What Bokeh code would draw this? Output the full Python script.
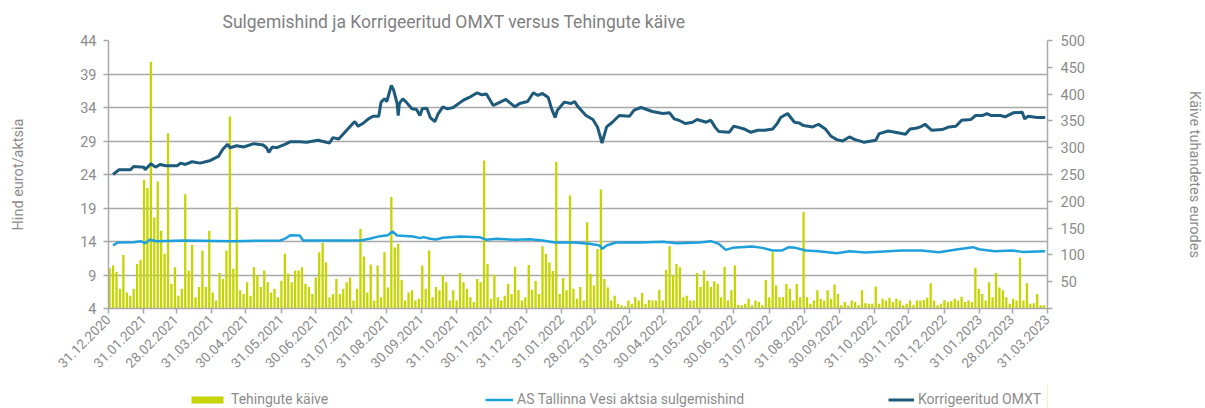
import math
from datetime import date
from bokeh.plotting import figure
from bokeh.layouts import column
from bokeh.models import Range1d, LinearAxis, FixedTicker, Legend, LegendItem
from bokeh.embed import file_html
from bokeh.resources import INLINE

# ---------------- data ----------------
base = date(2020, 12, 31)
month_labels = ["31.12.2020", "31.01.2021", "28.02.2021", "31.03.2021", "30.04.2021", "31.05.2021",
                "30.06.2021", "31.07.2021", "31.08.2021", "30.09.2021", "31.10.2021", "30.11.2021",
                "31.12.2021", "31.01.2022", "28.02.2022", "31.03.2022", "30.04.2022", "31.05.2022",
                "30.06.2022", "31.07.2022", "31.08.2022", "30.09.2022", "31.10.2022", "30.11.2022",
                "31.12.2022", "31.01.2023", "28.02.2023", "31.03.2023"]

# Korrigeeritud OMXT (days since 31.12.2020, value on price scale)
omxt_days = [4, 9, 19, 22, 31, 32, 37, 41, 45, 50, 60, 63, 67, 73, 80, 89, 96, 100, 104, 106,
             112, 118, 127, 135, 138, 140, 143, 147, 154, 159, 167, 173, 183, 193, 196, 201, 208, 215, 218, 222,
             227, 231, 236, 238, 241, 243, 247, 249, 252, 253, 254, 257, 260, 265, 269, 272, 274, 278, 281, 285,
             288, 292, 296, 301, 310, 315, 322, 326, 330, 336, 342, 347, 355, 359, 366, 371, 375, 379, 384, 387,
             390, 392, 398, 404, 407, 410, 417, 423, 427, 431, 435, 440, 446, 455, 459, 465, 475, 484, 490, 494,
             498, 504, 510, 514, 522, 526, 530, 533, 542, 546, 551, 555, 561, 567, 573, 580, 584, 587, 593, 599,
             603, 607, 615, 620, 626, 631, 636, 641, 647, 652, 660, 670, 673, 681, 687, 696, 700, 705, 709, 713,
             719, 728, 734, 740, 745, 753, 757, 763, 767, 771, 779, 783, 790, 798, 800, 803, 811, 818]
omxt_vals = [24.0, 24.7, 24.7, 25.2, 25.1, 24.7, 25.6, 25.1, 25.5, 25.3, 25.3, 25.7, 25.5, 25.9, 25.7, 26.1, 26.7, 27.8, 28.5, 28.0,
             28.3, 28.1, 28.6, 28.4, 28.0, 27.3, 28.1, 28.0, 28.5, 28.9, 28.9, 28.8, 29.1, 28.7, 29.5, 29.3, 30.6, 31.9, 31.2, 31.6,
             32.3, 32.7, 32.7, 34.8, 35.3, 34.9, 37.3, 36.6, 34.6, 32.8, 34.6, 35.3, 34.8, 33.8, 33.7, 32.8, 33.8, 33.9, 32.5, 31.9,
             33.1, 34.1, 33.8, 34.0, 35.1, 35.5, 36.2, 35.9, 36.0, 34.3, 34.8, 35.2, 34.1, 34.6, 34.9, 36.2, 35.8, 36.1, 35.5, 33.8,
             32.5, 33.6, 34.8, 34.6, 34.9, 34.1, 32.8, 32.2, 31.1, 28.7, 31.1, 31.8, 32.8, 32.7, 33.6, 34.0, 33.4, 33.1, 33.2, 32.3,
             32.1, 31.6, 31.8, 32.2, 31.8, 32.1, 31.0, 30.4, 30.3, 31.2, 31.0, 30.8, 30.3, 30.6, 30.6, 30.8, 31.6, 32.5, 33.1, 31.8,
             31.7, 31.3, 31.1, 31.5, 30.8, 29.7, 29.2, 29.0, 29.6, 29.2, 28.8, 29.1, 30.1, 30.5, 30.3, 30.0, 30.8, 30.9, 31.1, 31.5,
             30.6, 30.7, 31.1, 31.2, 32.1, 32.2, 32.8, 32.8, 33.1, 32.8, 32.8, 32.6, 33.2, 33.3, 32.3, 32.7, 32.5, 32.5]

# AS Tallinna Vesi aktsia sulgemishind
tv_days = [4, 8, 22, 28, 32, 36, 42, 66, 109, 150, 154, 159, 167, 170, 182, 220, 228, 237, 244, 248,
           252, 266, 272, 275, 281, 286, 292, 298, 307, 324, 330, 339, 356, 368, 379, 390, 406, 420, 429, 431,
           435, 443, 464, 484, 496, 516, 526, 533, 539, 545, 562, 571, 580, 588, 594, 600, 609, 620, 636, 647,
           661, 681, 693, 710, 725, 742, 755, 760, 774, 789, 798, 818]
tv_vals = [13.4, 13.85, 13.9, 14.05, 13.75, 14.25, 14.05, 14.15, 14.05, 14.15, 14.4, 14.95, 14.9, 14.15, 14.15, 14.15, 14.4, 14.8, 14.95, 15.5,
           14.9, 14.75, 14.5, 14.65, 14.4, 14.3, 14.55, 14.65, 14.75, 14.65, 14.25, 14.4, 14.25, 14.35, 14.15, 13.85, 13.85, 13.65, 13.4, 12.9,
           13.4, 13.85, 13.85, 13.95, 13.75, 13.85, 14.05, 13.65, 12.75, 13.05, 13.25, 13.05, 12.65, 12.65, 13.15, 13.05, 12.65, 12.55, 12.25, 12.55,
           12.35, 12.55, 12.65, 12.65, 12.4, 12.85, 13.15, 12.85, 12.55, 12.65, 12.45, 12.55]

# Tehingute käive (tuhandetes eurodes), one value per 3 calendar days
turnover = [75, 80, 68, 37, 100, 30, 24, 37, 83, 91,
            240, 225, 460, 170, 237, 145, 102, 327, 46, 77,
            24, 37, 213, 71, 119, 21, 40, 108, 40, 145,
            30, 15, 66, 55, 108, 358, 74, 189, 34, 27,
            49, 24, 77, 62, 40, 71, 49, 30, 37, 21,
            52, 102, 65, 49, 71, 71, 77, 46, 40, 27,
            58, 105, 122, 86, 21, 27, 55, 27, 37,
            49, 58, 15, 37, 149, 97, 30, 82, 15, 80,
            21, 105, 39, 208, 114, 121, 53, 15, 30, 34,
            15, 18, 80, 37, 108, 21, 40, 34, 62, 49,
            15, 34, 15, 66, 49, 37, 21, 12, 55, 49,
            276, 83, 18, 63, 21, 15, 24, 46, 27, 78,
            34, 15, 21, 81, 35, 52, 27, 116, 102, 86,
            70, 274, 27, 57, 34, 211, 37, 18, 40,
            15, 161, 65, 43, 111, 222, 55, 39, 15, 24,
            9, 6, 4, 15, 9, 21, 15, 29, 9, 16,
            15, 15, 35, 15, 72, 116, 62, 83, 77, 21,
            24, 15, 15, 66, 40, 71, 52, 40, 51, 46,
            21, 78, 15, 34, 80, 7, 6, 9, 18, 6,
            15, 12, 6, 53, 21, 105, 43, 21, 21, 46,
            37, 15, 46, 21, 180, 21, 9, 15, 34,
            18, 15, 34, 18, 45, 27, 6, 12, 6, 15,
            12, 6, 34, 10, 9, 9, 41, 9, 18, 15,
            20, 12, 18, 15, 6, 9, 15, 7, 15, 15,
            16, 20, 47, 15, 6, 9, 16, 12, 14, 18,
            15, 22, 12, 15, 12, 76, 37, 27, 15, 49,
            21, 66, 39, 34, 21, 9, 18, 15, 95, 15,
            47, 9, 10, 27, 6, 6]
turnover_days = [3 * i + 1 for i in range(len(turnover))]

price_ticks = [4, 9, 14, 19, 24, 29, 34, 39, 44]
vol_ticks = [0, 50, 100, 150, 200, 250, 300, 350, 400, 450, 500]

# ---------------- styling ----------------
FONT = "Roboto"
TXT = "#8c8c8c"
GRID = "#a9a9a9"
C_BAR = "#c5d500"
C_TV = "#1ea0dc"
C_OMXT = "#1d5a7c"

def day_of(s):
    d, m, y = s.split(".")
    return (date(int(y), int(m), int(d)) - base).days

month_days = [day_of(s) for s in month_labels]

p = figure(width=1205, height=384, x_range=Range1d(0, 820), y_range=Range1d(4, 44),
           output_backend="svg", toolbar_location=None,
           min_border_left=108, min_border_right=156, min_border_top=40, min_border_bottom=76)
p.extra_y_ranges = {"vol": Range1d(0, 500)}
p.outline_line_color = None
p.background_fill_color = "white"

p.title.text = "Sulgemishind ja Korrigeeritud OMXT versus Tehingute käive"
p.title.align = "left"
p.title.offset = 114
p.title.standoff = 18
p.title.text_font = FONT
p.title.text_font_size = "17.5px"
p.title.text_font_style = "normal"
p.title.text_color = "#7f7f7f"

bars = p.vbar(x=turnover_days, top=turnover, bottom=0, width=2.0, y_range_name="vol",
              fill_color=C_BAR, line_color=None)
tv_line = p.line(tv_days, tv_vals, line_color=C_TV, line_width=2.5)
omxt_line = p.line(omxt_days, omxt_vals, line_color=C_OMXT, line_width=3)

# grid
p.xgrid.visible = False
p.ygrid.ticker = FixedTicker(ticks=price_ticks)
p.ygrid.grid_line_color = GRID
p.ygrid.grid_line_width = 1.5

def style_axis(ax):
    ax.axis_line_color = GRID
    ax.axis_line_width = 1.5
    ax.major_tick_line_color = GRID
    ax.major_tick_line_width = 1.5
    ax.major_tick_in = 0
    ax.major_tick_out = 5
    ax.minor_tick_line_color = None
    ax.major_label_text_font = FONT
    ax.major_label_text_font_size = "14.5px"
    ax.major_label_text_color = TXT
    ax.axis_label_text_font = FONT
    ax.axis_label_text_font_size = "14.5px"
    ax.axis_label_text_font_style = "normal"
    ax.axis_label_text_color = TXT

# left axis
ly = p.yaxis[0]
ly.ticker = FixedTicker(ticks=price_ticks)
ly.axis_label = "Hind eurot/aktsia"
style_axis(ly)
ly.major_label_standoff = 7
ly.axis_label_standoff = 50

# right axis
ry = LinearAxis(y_range_name="vol", ticker=FixedTicker(ticks=vol_ticks),
                axis_label="Käive tuhandetes eurodes")
style_axis(ry)
ry.major_label_overrides = {0: ""}
ry.major_label_standoff = 8
ry.axis_label_standoff = 98
p.add_layout(ry, "right")

# bottom axis
bx = p.xaxis[0]
bx.ticker = FixedTicker(ticks=month_days)
bx.major_label_overrides = {d: s for d, s in zip(month_days, month_labels)}
bx.major_label_orientation = math.pi / 4
style_axis(bx)
bx.major_label_text_font_size = "13.5px"
bx.major_label_standoff = 4

# ---------------- legend strip (frame aligned with the chart frame) ----------------
lg = figure(width=1205, height=24, x_range=Range1d(0, 1), y_range=Range1d(0, 1),
            output_backend="svg", toolbar_location=None,
            min_border_left=108, min_border_right=156, min_border_top=0, min_border_bottom=0)
lg.axis.visible = False
lg.grid.visible = False
lg.outline_line_color = None
# swatch renderers (their single point lies outside the strip's ranges, only the legend shows them)
lg_bar = lg.vbar(x=[5], top=[5], width=1, fill_color=C_BAR, line_color=None)
lg_tv = lg.line([5, 6], [5, 6], line_color=C_TV, line_width=2.5)
lg_omxt = lg.line([5, 6], [5, 6], line_color=C_OMXT, line_width=3)

def add_leg(label, r, x, gw):
    leg = Legend(items=[LegendItem(label=label, renderers=[r])], location=(x, 1),
                 orientation="horizontal", padding=0, margin=0, border_line_color=None,
                 background_fill_alpha=0, glyph_width=gw, glyph_height=9, label_height=14,
                 label_standoff=4, label_text_font=FONT, label_text_font_size="14px",
                 label_text_color=TXT)
    lg.add_layout(leg)

add_leg("Tehingute käive", lg_bar, 79, 40)
add_leg("AS Tallinna Vesi aktsia sulgemishind", lg_tv, 377, 28)
add_leg("Korrigeeritud OMXT", lg_omxt, 780, 26)

layout = column(p, lg, spacing=0)
open("out.html", "w").write(file_html(layout, INLINE))
